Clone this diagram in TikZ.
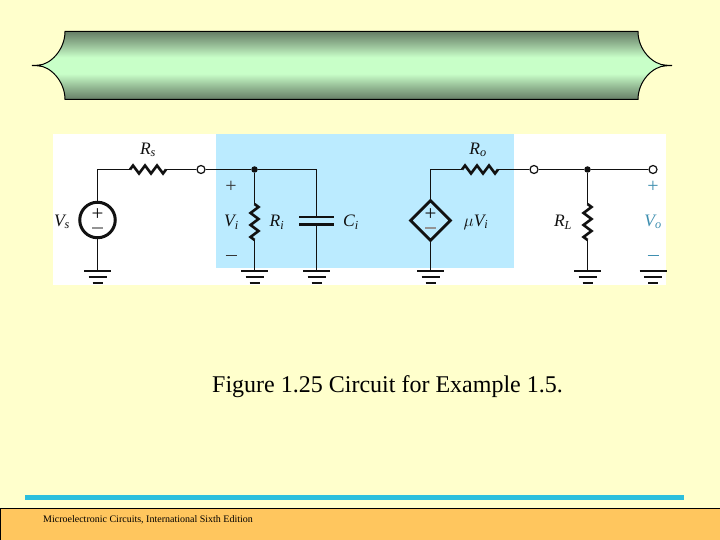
\documentclass[tikz,border=0pt]{standalone}
\usepackage{fontspec}
\setmainfont{Liberation Serif}
\usetikzlibrary{shapes.geometric}
\definecolor{bg}{HTML}{FFFFCC}
\definecolor{band}{HTML}{BBEBFF}
\definecolor{foot}{HTML}{FFC65E}
\definecolor{rulec}{HTML}{2CBFDD}
\definecolor{gdark}{HTML}{667D66}
\definecolor{glight}{HTML}{C8FFC8}
\definecolor{ink}{HTML}{111111}
\definecolor{vo}{HTML}{3F8FB0}
\pgfdeclareverticalshading{bannershade}{100bp}{
  color(0bp)=(gdark); color(25bp)=(gdark); color(35bp)=(gdark!50!glight); color(44bp)=(glight);
  color(56bp)=(glight); color(65bp)=(gdark!50!glight); color(75bp)=(gdark); color(100bp)=(gdark)}
\tikzset{
  wire/.style={draw=ink,line width=1.1pt},
  res/.style={draw=ink,line width=2.6pt,line join=miter},
  openc/.style={circle,draw=ink,fill=white,line width=1.2pt,minimum size=8pt,inner sep=0pt},
  dotc/.style={circle,fill=ink,minimum size=6.5pt,inner sep=0pt},
  srcc/.style={circle,draw=ink,line width=3pt,minimum size=35.5pt,inner sep=0pt},
  srcd/.style={diamond,aspect=1,draw=ink,line width=2.8pt,minimum size=41pt,inner sep=0pt},
  lab/.style={font=\fontsize{17.5}{17.5}\selectfont\itshape,inner sep=0pt,text=ink},
  sym/.style={font=\fontsize{20}{20}\selectfont,inner sep=0pt,text=ink!85},
  srcplus/.style={font=\fontsize{21}{21}\selectfont,inner sep=0pt,text=ink},
  pics/gnd/.style={code={
    \draw[draw=ink,line width=2.6pt] (-13.5,0)--(13.5,0);
    \draw[draw=ink,line width=2.6pt] (-9,6)--(9,6);
    \draw[draw=ink,line width=2.6pt] (-5,12)--(5,12);
  }},
}
\newcommand{\zigh}[2]{\draw[res] (#1) -- ++(3,-4) -- ++(6,8) -- ++(6,-8) -- ++(6,8) -- ++(6,-8) -- ++(6,8) -- (#2);}
\newcommand{\zigv}[2]{\draw[res] (#1) -- ++(4,3) -- ++(-8,6) -- ++(8,6) -- ++(-8,6) -- ++(8,6) -- ++(-8,6) -- (#2);}
\newcommand{\bannerpath}{(65,31.5) -- (638,31.5) .. controls (638,50) and (653,65) .. (666,65.2) -- (672,65.5) -- (666,65.8)
  .. controls (653,66) and (638,81) .. (638,99.5) -- (65,99.5)
  .. controls (65,81) and (50,66) .. (38,65.8) -- (32,65.5) -- (38,65.2)
  .. controls (50,65) and (65,50) .. (65,31.5) -- cycle}
\begin{document}
\begin{tikzpicture}[x=1pt,y=-1pt]
\useasboundingbox (0,0) rectangle (720,540);
\fill[bg] (0,0) rectangle (720,540);
% banner
\path[shading=bannershade] \bannerpath;
\draw[black,line width=1pt] \bannerpath;
% panels
\fill[white] (53,134) rectangle (666,285);
\fill[band] (216,134) rectangle (514,268);
% anchors
\coordinate (vstop) at (97.5,169.5);
\coordinate (rsa) at (130,169.5);
\coordinate (rsb) at (166,169.5);
\node[openc] (t1) at (201,169.5) {};
\node[dotc] (n1) at (254.5,169.5) {};
\coordinate (captop) at (316.5,169.5);
\coordinate (rotop) at (430.5,169.5);
\coordinate (roa) at (462,169.5);
\coordinate (rob) at (498,169.5);
\node[openc] (t2) at (534,169.5) {};
\node[dotc] (n2) at (587.5,169.5) {};
\node[openc] (t3) at (653,169.5) {};
\node[srcc] (vs) at (97.5,220) {};
\node[srcd] (dep) at (430.5,220.5) {};
\coordinate (ria) at (254.5,204);
\coordinate (rib) at (254.5,240);
\coordinate (rla) at (587.5,204);
\coordinate (rlb) at (587.5,240);
\coordinate (cpa) at (316.5,217);
\coordinate (cpb) at (316.5,224.5);
\coordinate (g1) at (97.5,271);
\coordinate (g2) at (254.5,271);
\coordinate (g3) at (316.5,271);
\coordinate (g4) at (430.5,271);
\coordinate (g5) at (587.5,271);
\coordinate (g6) at (653,271);
% wires
\draw[wire] (vs.north) -- (vstop) -- (rsa);
\draw[wire] (rsb) -- (t1);
\draw[wire] (t1) -- (n1);
\draw[wire] (n1) -- (captop) -- (cpa);
\draw[wire] (cpb) -- (g3);
\draw[wire] (n1) -- (ria);
\draw[wire] (rib) -- (g2);
\draw[wire] (vs.south) -- (g1);
\draw[wire] (dep.north) -- (rotop) -- (roa);
\draw[wire] (dep.south) -- (g4);
\draw[wire] (rob) -- (t2);
\draw[wire] (t2) -- (n2);
\draw[wire] (n2) -- (t3);
\draw[wire] (n2) -- (rla);
\draw[wire] (rlb) -- (g5);
% resistors
\zigh{rsa}{rsb}
\zigh{roa}{rob}
\zigv{ria}{rib}
\zigv{rla}{rlb}
% capacitor
\draw[res] ([xshift=-17.5pt]cpa) -- ([xshift=17.5pt]cpa);
\draw[res] ([xshift=-17.5pt]cpb) -- ([xshift=17.5pt]cpb);
% grounds
\foreach \g in {g1,g2,g3,g4,g5,g6} \pic at (\g) {gnd};
% source signs
\node[srcplus] (p1) at (97.5,214.5) {+};
\node[sym,text=ink!45] (m1) at (97.5,228) {\rule{11pt}{1.2pt}};
\node[srcplus] (p2) at (430.5,214.5) {+};
\node[sym,text=ink!45] (m2) at (430.5,228) {\rule{11pt}{1.2pt}};
% labels
\node[lab] (lrs) at (148,150) {R\textsubscript{s}};
\node[lab] (lvs) at (62,222) {V\textsubscript{s}};
\node[lab] (lvi) at (231.5,222) {V\textsubscript{i}};
\node[lab] (lri) at (277,222) {R\textsubscript{i}};
\node[lab] (lci) at (351,222) {C\textsubscript{i}};
\node[lab] (lro) at (478,150) {R\textsubscript{o}};
\node[lab] (lmu) at (476,222) {$\mu$V\textsubscript{i}};
\node[lab] (lrl) at (563,222) {R\textsubscript{L}};
\node[lab,text=vo] (lvo) at (653,222) {V\textsubscript{o}};
\node[sym] (vip) at (231,186.5) {+};
\node[sym] (vim) at (231,255) {\rule{11pt}{0.8pt}};
\node[sym,text=vo] (vop) at (653,186.5) {+};
\node[sym,text=vo] (vom) at (653,255) {\rule{11pt}{0.8pt}};
% caption
\node[anchor=west,inner sep=0pt,font=\fontsize{24}{26}\selectfont,text=black] (cap) at (212,386.5) {Figure 1.25 Circuit for Example 1.5.};
% footer
\draw[rulec,line width=5pt] (25,497) -- (684,497);
\fill[foot] (0,508) rectangle (720,540);
\draw[black,line width=1pt] (0.5,540) -- (0.5,508.5) -- (720,508.5);
\node[anchor=west,inner sep=0pt,font=\fontsize{10}{12}\selectfont,text=black] (ft) at (43,520) {Microelectronic Circuits, International Sixth Edition};
\end{tikzpicture}
\end{document}
